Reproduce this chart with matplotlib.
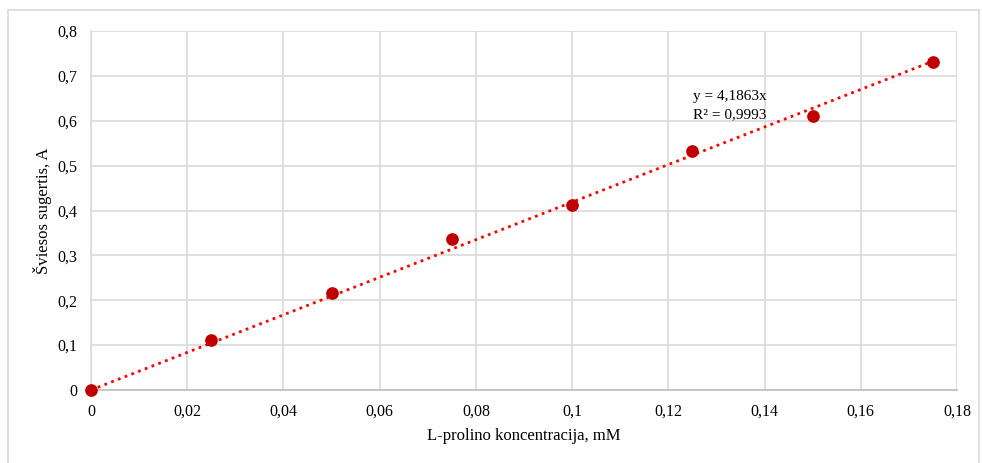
import numpy as np
import matplotlib.pyplot as plt
from matplotlib.patches import Rectangle
from matplotlib.ticker import FuncFormatter, MultipleLocator

plt.rcParams['font.family'] = ['Liberation Serif', 'DejaVu Serif']

# duomenys
koncentracija = [0, 0.025, 0.05, 0.075, 0.1, 0.125, 0.15, 0.175]
sugertis = [0.0, 0.111, 0.216, 0.336, 0.412, 0.533, 0.611, 0.731]
nuolydis = 4.1863
r2 = 0.9993


def kablelis(v, pos):
    s = f"{v:.2f}".rstrip('0').rstrip('.')
    return s.replace('.', ',')


fig = plt.figure(figsize=(9.82, 4.63), dpi=100)
ax = fig.add_axes([91 / 982, 73 / 463, 866 / 982, 359 / 463])

# figure border like the Excel chart area
fig.patches.append(Rectangle((8 / 982, -0.05), 971 / 982, 1.05 - 10 / 463,
                             transform=fig.transFigure, fill=False,
                             edgecolor='#d9d9d9', linewidth=1.2))

xs = np.array([0, max(koncentracija)])
ax.plot(xs, nuolydis * xs, linestyle=(0, (1, 1.6)), color='#ff0000',
        linewidth=2, zorder=2)
ax.scatter(koncentracija, sugertis, s=66, color='#c00000', zorder=3,
           clip_on=False)

ax.set_xlim(0, 0.18)
ax.set_ylim(0, 0.8)
ax.xaxis.set_major_locator(MultipleLocator(0.02))
ax.yaxis.set_major_locator(MultipleLocator(0.1))
ax.xaxis.set_major_formatter(FuncFormatter(kablelis))
ax.yaxis.set_major_formatter(FuncFormatter(kablelis))

ax.grid(True, color='#d9d9d9', linewidth=1.2)
ax.set_axisbelow(True)
for side in ['top', 'right']:
    ax.spines[side].set_visible(False)
ax.spines['left'].set_color('#d9d9d9')
ax.spines['left'].set_linewidth(1.2)
ax.spines['bottom'].set_color('#bfbfbf')
ax.spines['bottom'].set_linewidth(1.2)
ax.tick_params(length=0, labelsize=11.5, pad=10)

ax.set_xlabel('L-prolino koncentracija, mM', fontsize=12, labelpad=6)
ax.set_ylabel('Šviesos sugertis, A', fontsize=12, labelpad=4)

ax.text(0.1251, 0.655, f"y = {nuolydis:.4f}x".replace('.', ','), fontsize=11,
        va='center', ha='left')
ax.text(0.1251, 0.613, f"R² = {r2:.4f}".replace('.', ','), fontsize=11,
        va='center', ha='left')

fig.savefig('out.png', dpi=100)
